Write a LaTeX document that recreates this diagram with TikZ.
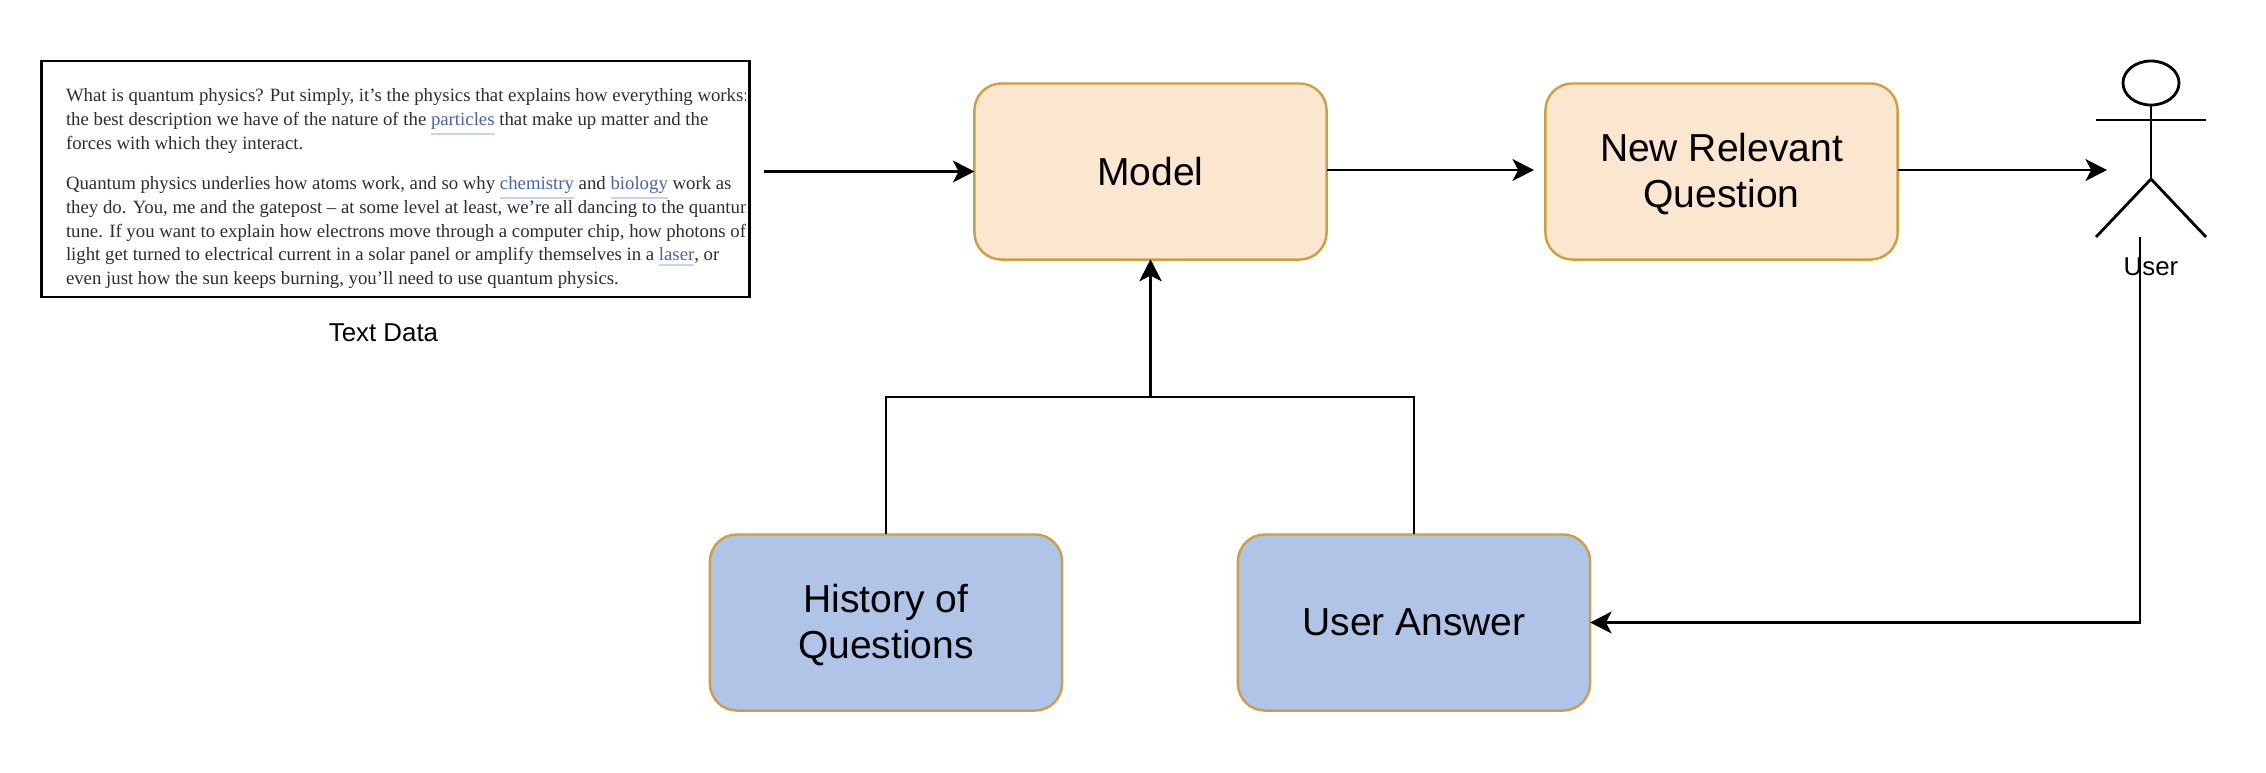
\documentclass[tikz,border=0pt]{standalone}
\usepackage{fontspec}
\usepackage{xcolor}
\usepackage{tikz}
\usetikzlibrary{arrows.meta,positioning,calc,shapes.geometric}
\setmainfont{Liberation Sans}
\newfontfamily\passagefont{Liberation Serif}
\definecolor{csorange}{RGB}{207,158,62}
\definecolor{cspeach}{RGB}{251,230,207}
\definecolor{csblue}{RGB}{176,196,232}
\definecolor{cslink}{RGB}{70,100,172}
\definecolor{csrule}{RGB}{200,212,236}
\definecolor{csink}{RGB}{45,45,45}
\newcommand{\lnk}[1]{\textcolor{csrule}{\underline{\textcolor{cslink}{#1}}}}
\newcommand{\lowerline}{\rule{0pt}{9.5pt}}
\tikzset{
  peachbox/.style={draw=csorange, fill=cspeach, line width=0.68pt, rounded corners=0.27cm, minimum width=3.52cm, minimum height=1.76cm, inner sep=0pt, outer sep=0pt, align=center, font=\fontsize{11.1}{13.1}\selectfont},
  bluebox/.style={peachbox, fill=csblue},
  passage/.style={anchor=base west, inner sep=0pt, outer sep=0pt, text=csink, font=\passagefont\fontsize{5.34}{6.8}\selectfont},
  caption/.style={inner sep=0pt, font=\fontsize{7.35}{9}\selectfont},
  arr/.style={-{Stealth[length=6.1pt,width=6.2pt,inset=1.6pt]}, line width=0.8pt},
  limb/.style={line width=0.8pt},
}
\begin{document}
\begin{tikzpicture}[x=0.01cm,y=-0.01cm]
  \useasboundingbox (0,0) rectangle (2266,772);
  % text data
  \node[draw, line width=0.8pt, minimum width=7.08cm, minimum height=2.36cm, inner sep=0pt, outer sep=0pt] (textbox) at (395.5,179) {};
  \begin{scope}
    \clip (66,62) rectangle (745,296);
    \node[passage] (lineA) at (66,101) {What is quantum physics? Put simply, it’s the physics that explains how everything works:};
    \node[passage] (lineB) at (66,125) {the best description we have of the nature of the \lnk{particles} that make up matter and the};
    \node[passage] (lineC) at (66,149) {forces with which they interact.};
    \node[passage] (lineD) at (66,189) {Quantum physics underlies how atoms work, and so why \lnk{chemistry} and \lnk{biology} work as};
    \node[passage] (lineE) at (66,213) {they do. You, me and the gatepost – at some level at least, we’re all dancing to the quantum};
    \node[passage] (lineF) at (66,237) {tune. If you want to explain how electrons move through a computer chip, how photons of};
    \node[passage] (lineG) at (66,260) {light get turned to electrical current in a solar panel or amplify themselves in a \lnk{laser}, or};
    \node[passage] (lineH) at (66,284) {even just how the sun keeps burning, you’ll need to use quantum physics.};
  \end{scope}
  \node[caption] (textlabel) at (383.5,333) {Text Data};

  % boxes
  \node[peachbox] (model) at (1150.5,171.5) {Model};
  \node[peachbox] (question) at (1721.5,171.5) {\lowerline New Relevant\\Question};
  \node[bluebox] (history) at (886,622.5) {\lowerline History of\\Questions};
  \node[bluebox] (answer) at (1414,622.5) {User Answer};

  % user
  \node[draw, ellipse, line width=0.8pt, minimum width=0.56cm, minimum height=0.44cm, inner sep=0pt, outer sep=0pt] (head) at (2151,83) {};
  \coordinate (hip) at (2151,179);
  \coordinate (handL) at (2096,120);
  \coordinate (handR) at (2206,120);
  \coordinate (footL) at (2096,237);
  \coordinate (footR) at (2206,237);
  \draw[limb] (head.south) -- (hip);
  \draw[limb] (handL) -- (handR);
  \draw[limb] (footL) -- (hip) -- (footR);
  \node[caption] (userlabel) at (2151,267) {User};

  % connectors
  \coordinate (textout) at (764,171.5);
  \coordinate (modelout) at (1534,170);
  \coordinate (userin) at (2107,170);
  \coordinate (joint) at (1150.5,397);
  \coordinate (userout) at (2140,237);
  \draw[arr] (textout) -- (model.west);
  \draw[arr] (model.east |- modelout) -- (modelout);
  \draw[arr] (question.east |- userin) -- (userin);
  \draw[arr] (history.north) |- (joint) -- (model.south);
  \draw[arr] (answer.north) |- (joint) -- (model.south);
  \draw[arr] (userout) |- (answer.east);
\end{tikzpicture}
\end{document}
